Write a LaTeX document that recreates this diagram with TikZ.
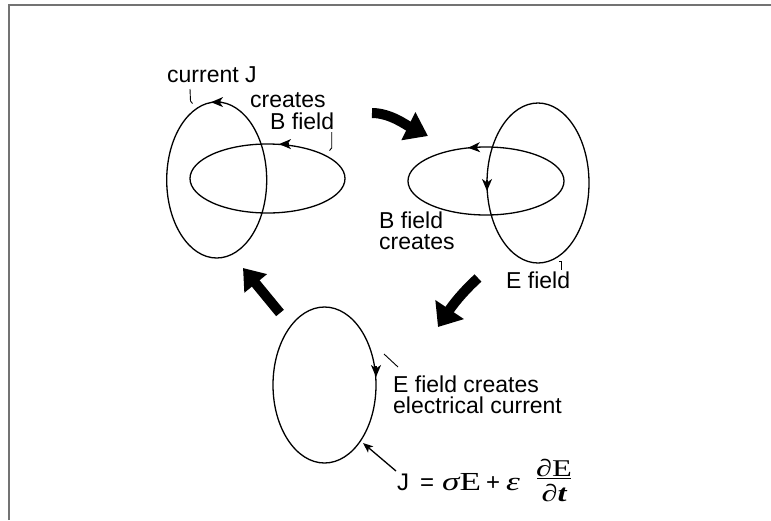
\documentclass[tikz,border=0pt]{standalone}
\usepackage{fontspec}
\setmainfont{Liberation Sans}
\newfontfamily\serifw{Liberation Serif}[FakeStretch=1.35]
\usetikzlibrary{arrows.meta,shapes.geometric}
\begin{document}
\begin{tikzpicture}[x=1pt,y=-1pt,
  loopline/.style={draw,ellipse,line width=1.3pt,inner sep=0pt,outer sep=0pt},
  lbl/.style={inner sep=0pt,anchor=base west,font=\fontsize{23}{22}\selectfont},
  eqs/.style={inner sep=0pt,anchor=base west,font=\fontsize{24}{24}\selectfont},
  eqr/.style={inner sep=0pt,anchor=base west,font=\serifw\fontsize{26}{26}\selectfont},
  eqf/.style={inner sep=0pt,anchor=base,font=\serifw\fontsize{24}{24}\selectfont},
  looptip/.style={line width=1.3pt,-{Stealth[length=12pt,width=10pt,inset=3.5pt]}},
  bigarrow/.style={line width=10pt,-{Triangle[length=22pt,width=30pt]}},
  leader/.style={line width=0.9pt},
  pointer/.style={line width=1.3pt,-{Stealth[length=10pt,width=8pt,inset=2.5pt]}}]
\useasboundingbox (0,0) rectangle (771,520);
\draw[black!55, line width=1.5pt] (9,520) -- (9,5) -- (771,5);

% --- top-left group: current J creates B field
\node[loopline, minimum width=100pt, minimum height=156pt] (Jloop) at (216.7,180) {};
\node[loopline, minimum width=155pt, minimum height=69pt] (Bloop) at (267.5,178.5) {};
\draw[looptip] (221,102.1) -- (211,102.2);
\draw[looptip] (289,144.1) -- (279,144.1);
\node[lbl] (curJ) at (167,82) {current J};
\node[lbl] (cre1) at (250,107) {creates};
\node[lbl] (bf1) at (270,129) {B field};
\draw[leader] (190,89) -- (190.5,101) -- (192.5,103.5);
\draw[leader] (331.7,132) -- (331.7,148) -- (329.5,150.5);

% --- top-right group: B field creates E field
\node[loopline, minimum width=156pt, minimum height=68pt] (Bloop2) at (486,181) {};
\node[loopline, minimum width=102pt, minimum height=160pt] (Eloop) at (538,183) {};
\draw[looptip] (478,147.3) -- (468,147.8);
\draw[looptip] (487,180) -- (487,191);
\node[lbl] (bf2) at (379,228) {B field};
\node[lbl] (cre2) at (379,249) {creates};
\node[lbl] (ef2) at (506,288) {E field};
\draw[leader] (559.3,261.7) -- (561.7,261.7) -- (561.7,270);

% --- bottom group: E field creates electrical current
\node[loopline, minimum width=103pt, minimum height=156pt] (Cloop) at (324.5,385) {};
\draw[looptip] (376,366) -- (376,377);
\node[lbl] (efc) at (393,392) {E field creates};
\node[lbl] (elc) at (393,413) {electrical current};
\coordinate (ldA) at (384,354);
\coordinate (ldB) at (398,367);
\draw[leader] (ldA) -- (ldB);

% --- equation
\node[eqs] (eJ) at (397,490) {J};
\node[eqs] (eEq) at (420,490) {=};
\node[eqr] (eSE) at (442,490) {\itshape σ\upshape E};
\node[eqs] (ePl) at (486,490) {+};
\node[eqr] (eEps) at (506,490) {\itshape ε};
\node[eqf] (eNum) at (554,476) {∂E};
\node[eqf] (eDen) at (554,501) {\bfseries\itshape ∂t};
\coordinate (barL) at (537,478.5);
\coordinate (barR) at (571,478.5);
\draw[line width=0.8pt] (barL) -- (barR);

\coordinate (ptail) at (396,471);
\coordinate (phead) at (363,443);
\draw[pointer] (ptail) -- (phead);

% --- big cycle arrows
\coordinate (a1s) at (372,113);
\coordinate (a1e) at (428,136);
\draw[bigarrow] (a1s) .. controls (390,113) and (406,125) .. (a1e);
\coordinate (a2s) at (478,278);
\coordinate (a2e) at (438,327);
\draw[bigarrow,-{Triangle[length=21pt,width=33pt]}] (a2s) .. controls (468,287) and (456,300) .. (a2e);
\coordinate (a3s) at (280,313);
\coordinate (a3e) at (243,268);
\draw[bigarrow,-{Triangle[length=20pt,width=28pt]}] (a3s) -- (a3e);
\end{tikzpicture}
\end{document}
